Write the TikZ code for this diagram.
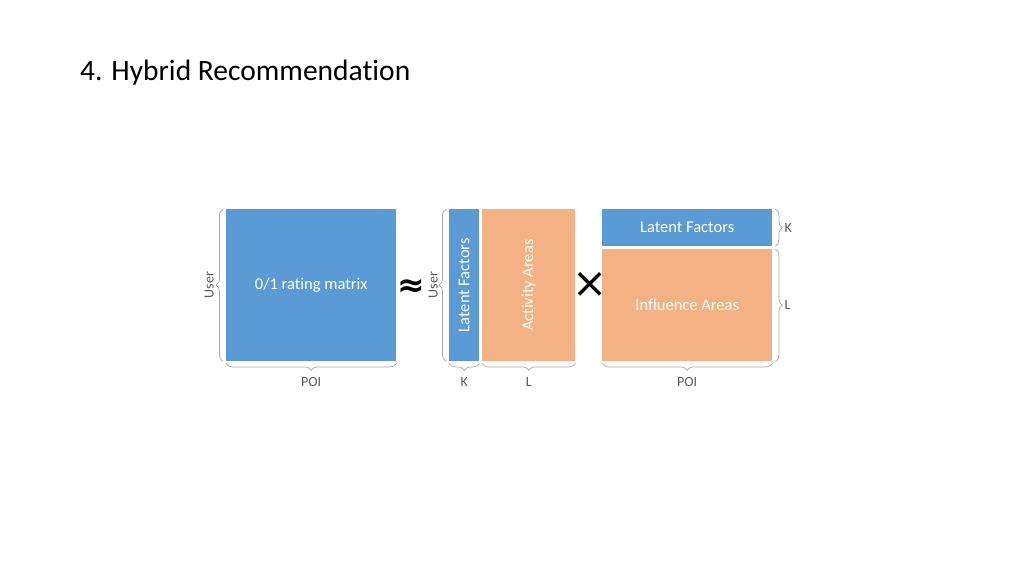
\documentclass[tikz,border=0pt]{standalone}
\usepackage{fontspec}
\setmainfont{Carlito}[Ligatures=NoCommon]
\newfontfamily\simbolos{DejaVu Sans}
\usepackage{xcolor}
\usetikzlibrary{decorations.pathreplacing}
\definecolor{azulbloco}{HTML}{5B9BD5}
\definecolor{laranjabloco}{HTML}{F4B183}
\definecolor{cinza}{HTML}{A6A6A6}
\definecolor{cinzaescuro}{HTML}{595959}

\begin{document}
\begin{tikzpicture}[
		    x=1pt, y=-1pt,
		    every node/.style={inner sep=0pt}
		]
		\tikzset{
		    azul/.style={fill=azulbloco, text=white, anchor=north west, font=\fontsize{16.5}{18}\selectfont},
		    laranja/.style={fill=laranjabloco, text=white, anchor=north west, font=\fontsize{16.5}{18}\selectfont},
		    chave/.style={draw=cinza, line width=0.7pt, decorate, decoration={brace, amplitude=7pt}},
		    rotulo/.style={text=cinzaescuro, font=\fontsize{14}{16}\selectfont}
		}
		\useasboundingbox (0,0) rectangle (1024,576);
		\node[anchor=base west, font=\fontsize{29.5}{32}\selectfont] (titulo) at (80,80) {4. Hybrid Recommendation};
		% matrizes
		\node[azul, minimum width=170pt, minimum height=152pt] (nota) at (226,209) {0/1 rating matrix};
		\node[azul, minimum width=30pt, minimum height=152pt] (fatu) at (449,209) {\rotatebox{90}{Latent Factors}};
		\node[laranja, minimum width=93pt, minimum height=152pt] (ativ) at (482,209) {\rotatebox{90}{Activity Areas}};
		\node[azul, minimum width=170pt, minimum height=37pt] (fatp) at (602,209) {Latent Factors};
		\node[laranja, minimum width=170pt, minimum height=112pt] (infl) at (602,249) {Influence Areas};
		\node[font=\simbolos\bfseries\fontsize{33}{35}\selectfont] (aprox) at (411,288) {≈};
		\node[font=\simbolos\fontsize{42}{44}\selectfont] (vezes) at (590,285) {×};
		% chaves
		\draw[chave] ([xshift=-3pt]nota.south west) -- ([xshift=-3pt]nota.north west);
		\draw[chave] ([yshift=-2pt]nota.south east) -- ([yshift=-2pt]nota.south west);
		\draw[chave] ([xshift=-3pt]fatu.south west) -- ([xshift=-3pt]fatu.north west);
		\draw[chave] ([yshift=-2pt]fatu.south east) -- ([yshift=-2pt]fatu.south west);
		\draw[chave] ([yshift=-2pt]ativ.south east) -- ([yshift=-2pt]ativ.south west);
		\draw[chave] ([xshift=3pt]fatp.north east) -- ([xshift=3pt]fatp.south east);
		\draw[chave] ([xshift=3pt]infl.north east) -- ([xshift=3pt]infl.south east);
		\draw[chave] ([yshift=-2pt]infl.south east) -- ([yshift=-2pt]infl.south west);
		% rotulos
		\node[rotulo, rotate=90, anchor=south] (u1) at ([xshift=-12pt]nota.west) {User};
		\node[rotulo, anchor=north] (p1) at ([yshift=-16pt]nota.south) {POI};
		\node[rotulo, rotate=90, anchor=south] (u2) at ([xshift=-11pt]fatu.west) {User};
		\node[rotulo, anchor=north] (k1) at ([yshift=-16pt]fatu.south) {K};
		\node[rotulo, anchor=north] (l1) at ([yshift=-16pt]ativ.south) {L};
		\node[rotulo, anchor=west] (k2) at ([xshift=12pt]fatp.east) {K};
		\node[rotulo, anchor=west] (l2) at ([xshift=12pt]infl.east) {L};
		\node[rotulo, anchor=north] (p2) at ([yshift=-16pt]infl.south) {POI};
		\end{tikzpicture}
\end{document}
